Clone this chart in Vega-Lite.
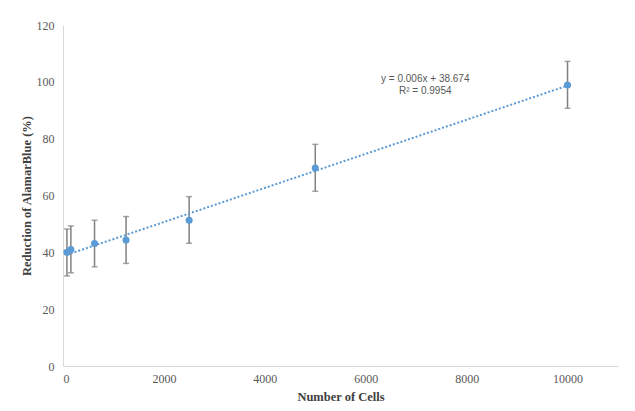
{
  "$schema": "https://vega.github.io/schema/vega-lite/v6.json",
  "autosize": "none",
  "width": 555,
  "height": 341,
  "padding": {"left": 63, "top": 25, "right": 17, "bottom": 45},
  "background": "white",
  "config": {
    "view": {"stroke": null},
    "axis": {
      "grid": false,
      "ticks": false,
      "domainColor": "#d9d9d9",
      "domainWidth": 1,
      "labelFont": "Liberation Serif",
      "labelFontSize": 12,
      "labelColor": "#595959",
      "titleFont": "Liberation Serif",
      "titleFontSize": 12.5,
      "titleFontWeight": "bold",
      "titleColor": "#404040"
    }
  },
  "datasets": {
    "pts": [
      {"cells": 78, "reduction": 40.0, "lo": 31.7, "hi": 48.2},
      {"cells": 156, "reduction": 41.0, "lo": 32.8, "hi": 49.3},
      {"cells": 625, "reduction": 43.1, "lo": 34.9, "hi": 51.3},
      {"cells": 1250, "reduction": 44.3, "lo": 36.1, "hi": 52.6},
      {"cells": 2500, "reduction": 51.3, "lo": 43.2, "hi": 59.6},
      {"cells": 5000, "reduction": 69.7, "lo": 61.5, "hi": 78.0},
      {"cells": 10000, "reduction": 98.9, "lo": 90.7, "hi": 107.2}
    ],
    "notes": [
      {"cells": 7180, "reduction": 101.1, "label": "y = 0.006x + 38.674"},
      {"cells": 7180, "reduction": 96.7, "label": "R² = 0.9954"}
    ]
  },
  "layer": [
    {
      "data": {"name": "pts"},
      "mark": {"type": "rule", "color": "#808080", "strokeWidth": 1.5},
      "encoding": {
        "x": {"field": "cells", "type": "quantitative", "scale": {"domain": [0, 11000]},
          "axis": {"title": "Number of Cells", "format": "d", "values": [0, 2000, 4000, 6000, 8000, 10000], "labelPadding": 7, "titlePadding": 6}},
        "y": {"field": "lo", "type": "quantitative", "scale": {"domain": [0, 120]},
          "axis": {"title": "Reduction of AlamarBlue (%)", "values": [0, 20, 40, 60, 80, 100, 120], "labelPadding": 9, "titlePadding": 3}},
        "y2": {"field": "hi"}
      }
    },
    {
      "data": {"name": "pts"},
      "mark": {"type": "tick", "color": "#808080", "orient": "horizontal", "size": 6, "thickness": 1.5},
      "encoding": {
        "x": {"field": "cells", "type": "quantitative"},
        "y": {"field": "lo", "type": "quantitative"}
      }
    },
    {
      "data": {"name": "pts"},
      "mark": {"type": "tick", "color": "#808080", "orient": "horizontal", "size": 6, "thickness": 1.5},
      "encoding": {
        "x": {"field": "cells", "type": "quantitative"},
        "y": {"field": "hi", "type": "quantitative"}
      }
    },
    {
      "data": {"name": "pts"},
      "transform": [{"regression": "reduction", "on": "cells", "method": "linear", "extent": [78, 10000]}],
      "mark": {"type": "line", "color": "#5b9bd5", "strokeWidth": 2, "strokeDash": [2, 2]},
      "encoding": {
        "x": {"field": "cells", "type": "quantitative"},
        "y": {"field": "reduction", "type": "quantitative"}
      }
    },
    {
      "data": {"name": "pts"},
      "mark": {"type": "circle", "color": "#5b9bd5", "opacity": 1, "size": 50},
      "encoding": {
        "x": {"field": "cells", "type": "quantitative"},
        "y": {"field": "reduction", "type": "quantitative"}
      }
    },
    {
      "data": {"name": "notes"},
      "mark": {"type": "text", "font": "Liberation Sans", "fontSize": 10, "color": "#595959", "align": "center", "baseline": "middle"},
      "encoding": {
        "x": {"field": "cells", "type": "quantitative"},
        "y": {"field": "reduction", "type": "quantitative"},
        "text": {"field": "label"}
      }
    }
  ]
}
